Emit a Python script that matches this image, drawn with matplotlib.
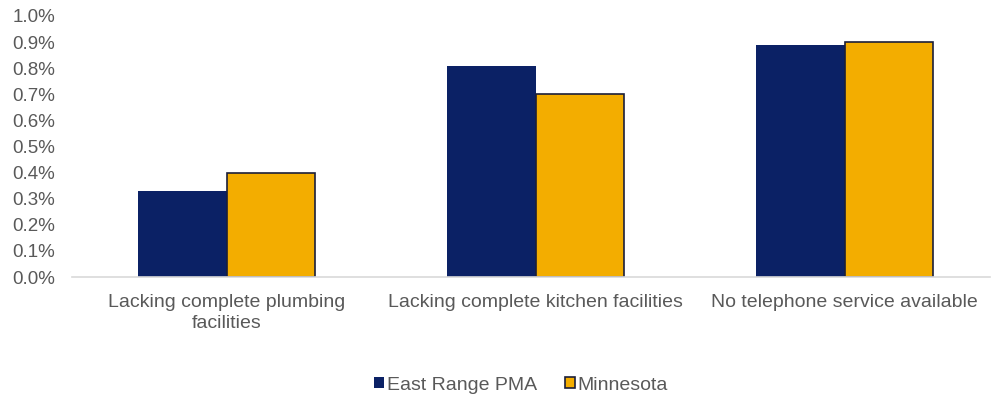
import matplotlib
matplotlib.use('Agg')
import matplotlib.pyplot as plt
import numpy as np
from matplotlib.ticker import PercentFormatter

plt.rcParams['font.family'] = ['Liberation Sans', 'DejaVu Sans']

categories = ['Lacking complete plumbing\nfacilities',
              'Lacking complete kitchen facilities',
              'No telephone service available']
east_range = [0.33, 0.81, 0.89]
minnesota = [0.40, 0.70, 0.90]
yticks = [0.0, 0.1, 0.2, 0.3, 0.4, 0.5, 0.6, 0.7, 0.8, 0.9, 1.0]

navy = '#0B2165'
gold = '#F3AD00'
grey_text = '#595959'

fig = plt.figure(figsize=(9.91, 4.0), dpi=100)
ax = fig.add_axes([72 / 991, 123 / 400, 918 / 991, 261 / 400])

x = np.arange(len(categories))
w = 0.287
ax.bar(x - w / 2, east_range, w, color=navy, label='East Range PMA')
ax.bar(x + w / 2, minnesota, w, color=gold, edgecolor='#1B1F3A', linewidth=1.2,
       label='Minnesota')

ax.set_xlim(-0.5, 2.47)
ax.set_ylim(0, 1.0)
ax.set_yticks(yticks)
ax.yaxis.set_major_formatter(PercentFormatter(decimals=1))
ax.set_xticks(x)
ax.set_xticklabels(categories, fontsize=14, color=grey_text, linespacing=1.35)
ax.tick_params(axis='y', labelsize=13.5, labelcolor=grey_text, length=0, pad=12)
ax.tick_params(axis='x', length=0, pad=12)

for s in ['top', 'right', 'left']:
    ax.spines[s].set_visible(False)
ax.spines['bottom'].set_color('#D9D9D9')
ax.spines['bottom'].set_linewidth(1.2)

leg = fig.legend(loc='center', bbox_to_anchor=(521 / 991, 15 / 400), ncol=2, frameon=False,
                 fontsize=14, handlelength=0.5, handleheight=0.5,
                 handletextpad=0.15, columnspacing=1.45)
for t in leg.get_texts():
    t.set_color(grey_text)

fig.savefig('out.png', dpi=100)
